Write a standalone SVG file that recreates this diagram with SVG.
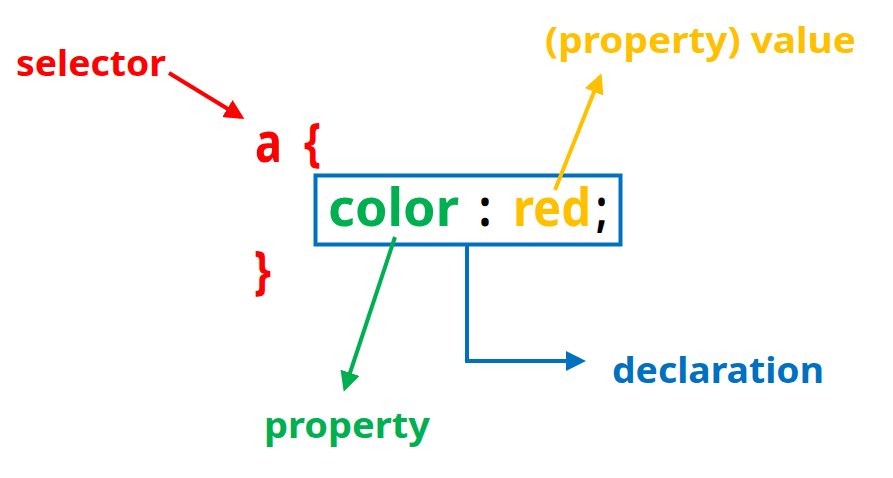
<svg xmlns="http://www.w3.org/2000/svg" width="893" height="478" viewBox="0 0 893 478">
<style>
text{font-family:"Noto Sans","Open Sans","Liberation Sans",sans-serif;font-weight:bold}
.red{fill:#FF0000}.grn{fill:#00B050}.yel{fill:#FFC000}.blu{fill:#0070C0}.blk{fill:#000}
.ln{fill:none;stroke-width:4}
</style>
<defs>
<marker id="mR" markerWidth="5" markerHeight="5" refX="4" refY="2.5" orient="auto" markerUnits="strokeWidth"><path d="M0,0 L5,2.5 L0,5 Z" fill="#FF0000"/></marker>
<marker id="mG" markerWidth="5" markerHeight="5" refX="4" refY="2.5" orient="auto" markerUnits="strokeWidth"><path d="M0,0 L5,2.5 L0,5 Z" fill="#00B050"/></marker>
<marker id="mY" markerWidth="5" markerHeight="5" refX="4" refY="2.5" orient="auto" markerUnits="strokeWidth"><path d="M0,0 L5,2.5 L0,5 Z" fill="#FFC000"/></marker>
<marker id="mB" markerWidth="5" markerHeight="5" refX="4" refY="2.5" orient="auto" markerUnits="strokeWidth"><path d="M0,0 L5,2.5 L0,5 Z" fill="#0070C0"/></marker>
</defs>
<rect width="893" height="478" fill="#fff"/>
<g id="selector"><text class="red" x="16" y="76" font-size="36" textLength="150" lengthAdjust="spacingAndGlyphs">selector</text></g>
<g id="rule-open"><text class="red" x="255" y="162" font-size="56" textLength="27" lengthAdjust="spacingAndGlyphs">a</text><text class="red" x="304" y="160" font-size="52" textLength="17" lengthAdjust="spacingAndGlyphs">{</text></g>
<g id="rule-close"><text class="red" x="254" y="288" font-size="52" textLength="17" lengthAdjust="spacingAndGlyphs">}</text></g>
<g id="declaration-box">
<rect x="315.5" y="175.5" width="305" height="69" fill="none" stroke="#0070C0" stroke-width="4"/>
<text class="grn" x="328" y="226" font-size="52" textLength="131" lengthAdjust="spacingAndGlyphs">color</text>
<text class="blk" x="479" y="226" font-size="52" textLength="12" lengthAdjust="spacingAndGlyphs">:</text>
<text class="yel" x="513" y="226" font-size="52" textLength="78" lengthAdjust="spacingAndGlyphs">red</text>
<text class="blk" x="596" y="226" font-size="52" textLength="11" lengthAdjust="spacingAndGlyphs">;</text>
</g>
<g id="value-label"><text class="yel" x="545" y="53" font-size="36" textLength="311" lengthAdjust="spacingAndGlyphs">(property) value</text></g>
<g id="property-label"><text class="grn" x="264" y="438" font-size="36" textLength="166" lengthAdjust="spacingAndGlyphs">property</text></g>
<g id="declaration-label"><text class="blu" x="612" y="383" font-size="36" textLength="212" lengthAdjust="spacingAndGlyphs">declaration</text></g>
<g id="connectors">
<line class="ln" x1="169" y1="73" x2="241" y2="117" stroke="#FF0000" marker-end="url(#mR)"/>
<line class="ln" x1="555" y1="190" x2="600" y2="77" stroke="#FFC000" marker-end="url(#mY)"/>
<line class="ln" x1="395" y1="237" x2="345" y2="388" stroke="#00B050" marker-end="url(#mG)"/>
<path class="ln" d="M467,245 V361 H582" stroke="#0070C0" marker-end="url(#mB)"/>
</g>
</svg>
